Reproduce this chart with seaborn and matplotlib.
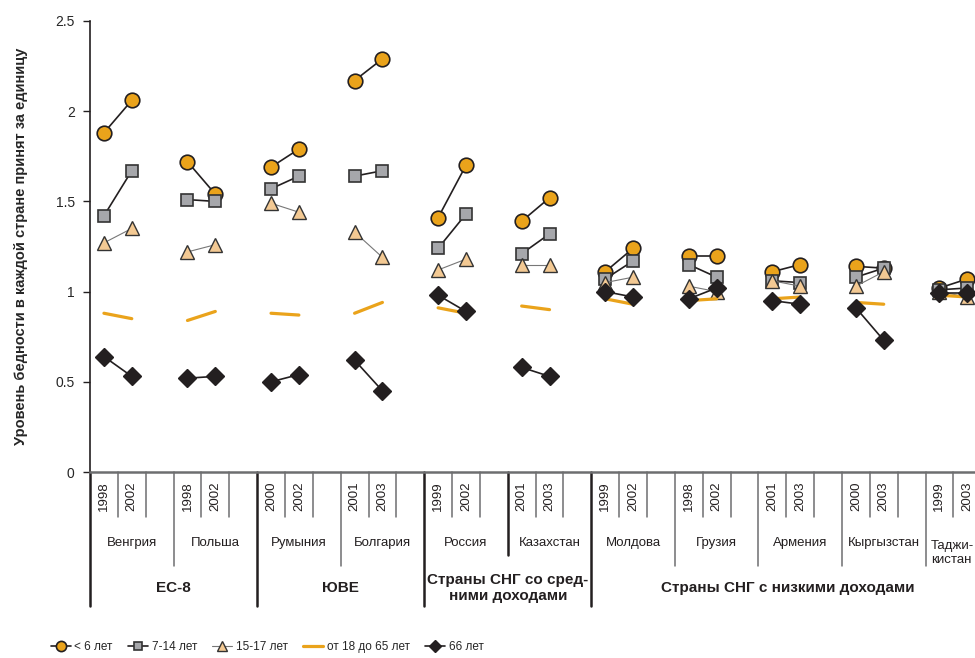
import pandas as pd
import matplotlib
matplotlib.use("Agg")
import matplotlib.pyplot as plt
from matplotlib.lines import Line2D
import seaborn as sns

# countries and survey years
countries = ["Венгрия", "Польша", "Румыния", "Болгария", "Россия", "Казахстан",
             "Молдова", "Грузия", "Армения", "Кыргызстан", "Таджи-\nкистан"]
years = ["1998", "2002", "1998", "2002", "2000", "2002", "2001", "2003",
         "1999", "2002", "2001", "2003", "1999", "2002", "1998", "2002",
         "2001", "2003", "2000", "2003", "1999", "2003"]
groups = ["ЕС-8", "ЮВЕ", "Страны СНГ со сред-\nними доходами", "Страны СНГ с низкими доходами"]
group_sizes = [2, 2, 2, 5]

# poverty rate relative to country average (two years per country)
under6 = [1.88, 2.06, 1.72, 1.54, 1.69, 1.79, 2.17, 2.29, 1.41, 1.70, 1.39, 1.52,
          1.11, 1.24, 1.20, 1.20, 1.11, 1.15, 1.14, 1.13, 1.02, 1.07]
age7_14 = [1.42, 1.67, 1.51, 1.50, 1.57, 1.64, 1.64, 1.67, 1.24, 1.43, 1.21, 1.32,
           1.07, 1.17, 1.15, 1.08, 1.06, 1.05, 1.08, 1.13, 1.01, 1.02]
age15_17 = [1.27, 1.35, 1.22, 1.26, 1.49, 1.44, 1.33, 1.19, 1.12, 1.18, 1.15, 1.15,
            1.05, 1.08, 1.03, 1.00, 1.06, 1.03, 1.03, 1.11, 1.00, 0.97]
age18_65 = [0.88, 0.85, 0.84, 0.89, 0.88, 0.87, 0.88, 0.94, 0.91, 0.88, 0.92, 0.90,
            0.96, 0.93, 0.95, 0.96, 0.96, 0.97, 0.94, 0.93, 0.98, 0.97]
age66 = [0.64, 0.53, 0.52, 0.53, 0.50, 0.54, 0.62, 0.45, 0.98, 0.89, 0.58, 0.53,
         1.00, 0.97, 0.96, 1.02, 0.95, 0.93, 0.91, 0.73, 0.99, 0.99]

series_labels = ["< 6 лет", "7-14 лет", "15-17 лет", "от 18 до 65 лет", "66 лет"]
series_values = [under6, age7_14, age15_17, age18_65, age66]

sns.set_style("ticks")
plt.rcParams['font.family'] = ['Liberation Sans', 'DejaVu Sans']

rows = []
for label, vals in zip(series_labels, series_values):
    for k, v in enumerate(vals):
        ci = k // 2
        rows.append({"series": label, "country": countries[ci],
                     "x": 3 * ci + (k % 2) + 0.5, "value": v})
df = pd.DataFrame(rows)

ORANGE = "#EAA31B"
DARK = "#231F20"
styles = {
    "< 6 лет": dict(color=DARK, lw=1.2, marker="o", markersize=10.5,
                    markerfacecolor=ORANGE, markeredgecolor=DARK, markeredgewidth=1.2),
    "7-14 лет": dict(color=DARK, lw=1.2, marker="s", markersize=8,
                     markerfacecolor="#A6A7AB", markeredgecolor="#333333", markeredgewidth=1.2),
    "15-17 лет": dict(color="#777777", lw=0.8, marker="^", markersize=10,
                      markerfacecolor="#F3C993", markeredgecolor="#333333", markeredgewidth=1.0),
    "от 18 до 65 лет": dict(color=ORANGE, lw=2.3, marker=None),
    "66 лет": dict(color=DARK, lw=1.2, marker="D", markersize=9,
                   markerfacecolor=DARK, markeredgecolor=DARK, markeredgewidth=1.0),
}

fig = plt.figure(figsize=(9.75, 6.58), dpi=100)
ax = fig.add_axes([90 / 975, (658 - 472) / 658, 885 / 975, 451 / 658])

for label in series_labels:
    sub = df[df["series"] == label]
    sns.lineplot(data=sub, x="x", y="value", units="country", estimator=None,
                 ax=ax, legend=False, clip_on=False, **styles[label])

slot_px = 27.85
ax.set_xlim(0, 885 / slot_px)
ax.set_ylim(0, 2.5)
ax.set_yticks([0, 0.5, 1, 1.5, 2, 2.5])
ax.set_yticklabels(["0", "0.5", "1", "1.5", "2", "2.5"], fontsize=10)
ax.tick_params(axis="y", length=5, width=1, color=DARK, pad=6)
ax.set_xticks([])
ax.set_xlabel("")
ax.set_ylabel("Уровень бедности в каждой стране принят за единицу",
              fontsize=10.5, fontweight="bold", labelpad=20)
for s in ["top", "right"]:
    ax.spines[s].set_visible(False)
ax.spines["left"].set_color(DARK)
ax.spines["left"].set_linewidth(1.2)
ax.spines["bottom"].set_color("#6D6E70")
ax.spines["bottom"].set_linewidth(1.8)

# multi-level axis labels
tr = ax.get_xaxis_transform()
h = 451.0
def fy(px):
    return -(px - 472) / h

n = len(countries)
for ci in range(n):
    for j in (1, 2):
        ax.plot([3 * ci + j] * 2, [0, fy(517)], transform=tr, clip_on=False,
                color="#6D6E70", lw=1.1)
    for j in (0, 1):
        ax.text(3 * ci + j + 0.5, fy(496), years[2 * ci + j], transform=tr,
                rotation=90, ha="center", va="center", fontsize=9.5, color=DARK)
    if ci < n - 1:
        ax.text(3 * ci + 1.5, fy(543), countries[ci], transform=tr, ha="center",
                va="center", fontsize=9.5, color=DARK)
    else:
        ax.text(3 * ci + 0.2, fy(553), countries[ci], transform=tr, ha="left",
                va="center", fontsize=9.5, color=DARK, linespacing=1.2)

start = 0
group_bounds = [0]
for gs in group_sizes:
    start += gs
    group_bounds.append(start)

for ci in range(1, n):
    x = 3 * ci
    if ci in group_bounds:
        continue
    if countries[ci] == "Казахстан":
        ax.plot([x, x], [0, fy(555)], transform=tr, clip_on=False, color=DARK, lw=1.8)
    else:
        ax.plot([x, x], [0, fy(566)], transform=tr, clip_on=False, color="#6D6E70", lw=1.1)

for gb in group_bounds[:-1]:
    ax.plot([3 * gb, 3 * gb], [0, fy(606)], transform=tr, clip_on=False, color=DARK, lw=1.8)

for gi, g in enumerate(groups):
    a, b = group_bounds[gi], group_bounds[gi + 1]
    cx = 1.5 * (a + b)
    if gi == 3:
        cx = 25.05
    ax.text(cx, fy(588), g, transform=tr, ha="center", va="center",
            fontsize=11, fontweight="bold", color=DARK, linespacing=1.2)

handles = []
for label in series_labels:
    st = dict(styles[label])
    if st["marker"] is not None:
        st["markersize"] = st["markersize"] * 0.7
    handles.append(Line2D([], [], **st))
fig.legend(handles, series_labels, loc="center left", bbox_to_anchor=(46 / 975, 11 / 658),
           ncol=5, frameon=False, fontsize=8.5, handlelength=1.7, handletextpad=0.3,
           columnspacing=1.3, borderaxespad=0)

fig.savefig("out.png", dpi=100)
